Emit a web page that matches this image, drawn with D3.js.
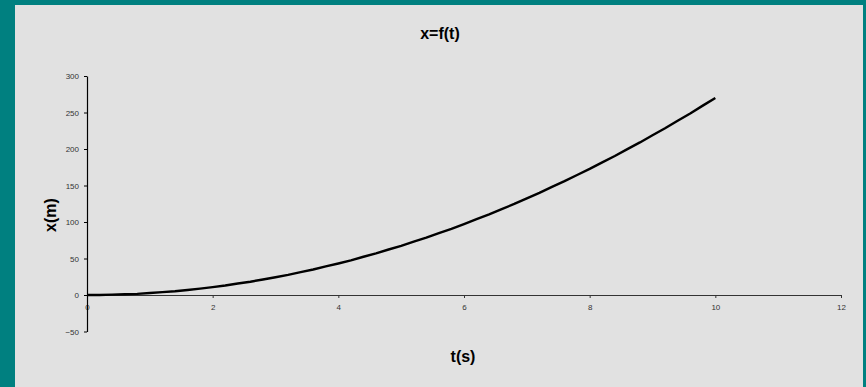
<!DOCTYPE html>
<html>
<head>
<meta charset="utf-8">
<script src="https://cdn.jsdelivr.net/npm/d3@7"></script>
<style>
  html, body { margin: 0; padding: 0; background: #008080; }
  svg { display: block; }
</style>
</head>
<body>
<svg id="chart" width="866" height="387"></svg>
<script>
// Position of the body over time
const times = [0, 0.2, 0.4, 0.6, 0.8, 1.0, 1.2, 1.4, 1.6, 1.8,
               2.0, 2.2, 2.4, 2.6, 2.8, 3.0, 3.2, 3.4, 3.6, 3.8,
               4.0, 4.2, 4.4, 4.6, 4.8, 5.0, 5.2, 5.4, 5.6, 5.8,
               6.0, 6.2, 6.4, 6.6, 6.8, 7.0, 7.2, 7.4, 7.6, 7.8,
               8.0, 8.2, 8.4, 8.6, 8.8, 9.0, 9.2, 9.4, 9.6, 9.8, 10.0];
const positions = [0, 0.1, 0.5, 1.0, 1.6, 2.7, 4.0, 5.2, 6.9, 8.8,
                   10.8, 13.0, 15.7, 18.2, 21.3, 24.3, 27.5, 31.3, 34.9, 39.1,
                   43.2, 47.5, 52.4, 57.0, 62.3, 67.4, 73.1, 78.6, 84.8, 90.7,
                   97.2, 103.9, 110.5, 117.7, 124.7, 132.4, 139.9, 148.0, 155.9, 164.4,
                   172.7, 181.6, 190.4, 199.8, 209.0, 218.8, 228.4, 238.7, 248.7, 259.4, 270.0];
const xTicks = [0, 2, 4, 6, 8, 10, 12];
const yTicks = [-50, 0, 50, 100, 150, 200, 250, 300];

const svg = d3.select("#chart");

// grey panel over the teal frame
svg.append("rect")
  .attr("x", 15).attr("y", 5)
  .attr("width", 848).attr("height", 382)
  .attr("fill", "#e1e1e1");

const x = d3.scaleLinear().domain([0, 12]).range([87, 841]);
const y = d3.scaleLinear().domain([-50, 300]).range([331.5, 76]);

const tickFont = "Arial, 'Liberation Sans', sans-serif";

// horizontal axis crosses at zero
const xAxis = svg.append("g")
  .attr("transform", `translate(0,${y(0)})`)
  .call(d3.axisBottom(x).tickValues(xTicks).tickSize(3).tickSizeOuter(0).tickPadding(6));
xAxis.select(".domain").attr("stroke", "#333").attr("stroke-width", 1.2);
xAxis.selectAll(".tick line").attr("stroke", "#333");
xAxis.selectAll("text")
  .attr("font-family", tickFont).attr("font-size", 8).attr("fill", "#333");

const yAxis = svg.append("g")
  .attr("transform", `translate(${x(0)},0)`)
  .call(d3.axisLeft(y).tickValues(yTicks).tickSize(3).tickSizeOuter(0).tickPadding(5));
yAxis.select(".domain").attr("stroke", "#000").attr("stroke-width", 1.2);
yAxis.selectAll(".tick line").attr("stroke", "#000");
yAxis.selectAll("text")
  .attr("font-family", tickFont).attr("font-size", 8).attr("fill", "#333");

// curve
const line = d3.line()
  .x((d, i) => x(times[i]))
  .y(d => y(d));
svg.append("path")
  .datum(positions)
  .attr("d", line)
  .attr("fill", "none")
  .attr("stroke", "#000")
  .attr("stroke-width", 2.4)
  .attr("stroke-linejoin", "round");

// titles
svg.append("text")
  .attr("x", 440).attr("y", 39)
  .attr("text-anchor", "middle")
  .attr("font-family", tickFont).attr("font-weight", "bold").attr("font-size", 16)
  .text("x=f(t)");

svg.append("text")
  .attr("transform", "translate(56,215) rotate(-90)")
  .attr("text-anchor", "middle")
  .attr("font-family", tickFont).attr("font-weight", "bold").attr("font-size", 16)
  .text("x(m)");

svg.append("text")
  .attr("x", 463).attr("y", 362)
  .attr("text-anchor", "middle")
  .attr("font-family", tickFont).attr("font-weight", "bold").attr("font-size", 16)
  .text("t(s)");
</script>
</body>
</html>
